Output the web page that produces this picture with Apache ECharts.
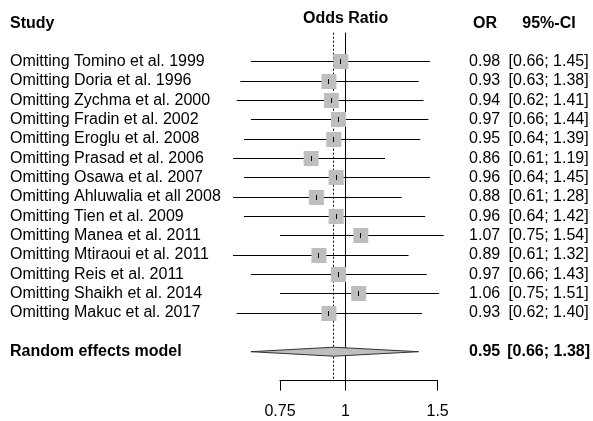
<!DOCTYPE html>
<html>
<head>
<meta charset="utf-8">
<script src="https://cdn.jsdelivr.net/npm/echarts@6/dist/echarts.min.js"></script>
<style>
html,body{margin:0;padding:0;background:#fff;}
#chart{width:593px;height:421px;}
</style>
</head>
<body>
<div id="chart"></div>
<script>
// ---- data ----
const studies = [
  "Omitting Tomino et al. 1999",
  "Omitting Doria et al. 1996",
  "Omitting Zychma et al. 2000",
  "Omitting Fradin et al. 2002",
  "Omitting Eroglu et al. 2008",
  "Omitting Prasad et al. 2006",
  "Omitting Osawa et al. 2007",
  "Omitting Ahluwalia et all 2008",
  "Omitting Tien et al. 2009",
  "Omitting Manea et al. 2011",
  "Omitting Mtiraoui et al. 2011",
  "Omitting Reis et al. 2011",
  "Omitting Shaikh et al. 2014",
  "Omitting Makuc et al. 2017"
];
const orValues = [0.98, 0.93, 0.94, 0.97, 0.95, 0.86, 0.96, 0.88, 0.96, 1.07, 0.89, 0.97, 1.06, 0.93];
const ciLower  = [0.66, 0.63, 0.62, 0.66, 0.64, 0.61, 0.64, 0.61, 0.64, 0.75, 0.61, 0.66, 0.75, 0.62];
const ciUpper  = [1.45, 1.38, 1.41, 1.44, 1.39, 1.19, 1.45, 1.28, 1.42, 1.54, 1.32, 1.43, 1.51, 1.40];
const pooledLabel = "Random effects model";
const pooledOR = 0.95;
const pooledLower = 0.66;
const pooledUpper = 1.38;
const refLineValues = [1, pooledOR];
const refLineDashed = [false, true];
const xTickValues = [0.75, 1, 1.5];
const xTickLabels = ["0.75", "1", "1.5"];
const headers = { study: "Study", plot: "Odds Ratio", or: "OR", ci: "95%-CI" };

// ---- build category rows: blank header row, studies, blank, pooled, blank ----
const FONT = "Liberation Sans";
const rowLabels = [""].concat(studies, ["", pooledLabel, ""]);
const fmt = v => v.toFixed(2);
const orLabels = [""].concat(orValues.map(fmt), ["", fmt(pooledOR), ""]);
const ciLabels = [""].concat(
  orValues.map((v, i) => "[" + fmt(ciLower[i]) + "; " + fmt(ciUpper[i]) + "]"),
  ["", "[" + fmt(pooledLower) + "; " + fmt(pooledUpper) + "]", ""]
);
const pooledRow = studies.length + 2;
const studyData = orValues.map((v, i) => [v, ciLower[i], ciUpper[i], i + 1]);
const pooledData = [[pooledOR, pooledLower, pooledUpper, pooledRow]];
const refData = refLineValues.map((v, i) => [v, 0, refLineDashed[i] ? 1 : 0]);

const crisp = v => Math.floor(v) + 0.5;
const boldRow = (value, idx) => idx === pooledRow ? "{b|" + value + "}" : value;
const richB = { b: { fontWeight: "bold", fontSize: 16, fontFamily: FONT, color: "#000" } };

const chart = echarts.init(document.getElementById("chart"), null, { renderer: "canvas" });
const baseLabel = { color: "#000", fontSize: 16, fontFamily: FONT, interval: 0, rich: richB, formatter: boldRow };

chart.setOption({
  animation: false,
  backgroundColor: "#fff",
  grid: { left: 280, right: 155, top: 32.7, bottom: 40.3, containLabel: false },
  xAxis: {
    type: "log", logBase: 10, min: 0.75, max: 1.5,
    splitLine: { show: false },
    axisLine: { show: true, lineStyle: { color: "#000", width: 1 } },
    axisTick: { show: true, customValues: xTickValues, length: 10, lineStyle: { color: "#000", width: 1 } },
    axisLabel: {
      customValues: xTickValues, margin: 23, color: "#000", fontSize: 16, fontFamily: FONT,
      formatter: (v) => {
        let best = 0;
        xTickValues.forEach((t, i) => { if (Math.abs(t - v) < Math.abs(xTickValues[best] - v)) best = i; });
        return xTickLabels[best];
      }
    }
  },
  yAxis: [
    {
      type: "category", inverse: true, data: rowLabels, position: "left",
      axisLine: { show: false }, axisTick: { show: false }, splitLine: { show: false },
      axisLabel: Object.assign({}, baseLabel, { align: "left", margin: 270 })
    },
    {
      type: "category", inverse: true, data: orLabels, position: "right", offset: 0,
      axisLine: { show: false }, axisTick: { show: false }, splitLine: { show: false },
      axisLabel: Object.assign({}, baseLabel, { align: "center", margin: 47 })
    },
    {
      type: "category", inverse: true, data: ciLabels, position: "right", offset: 0,
      axisLine: { show: false }, axisTick: { show: false }, splitLine: { show: false },
      axisLabel: Object.assign({}, baseLabel, { align: "center", margin: 111 })
    }
  ],
  graphic: [
    { type: "text", x: 10, y: 24, style: { text: headers.study, font: "bold 16px " + FONT, fill: "#000", align: "left", verticalAlign: "middle" } },
    { type: "text", x: 345.6, y: 19, style: { text: headers.plot, font: "bold 16px " + FONT, fill: "#000", align: "center", verticalAlign: "middle" } },
    { type: "text", x: 485, y: 24, style: { text: headers.or, font: "bold 16px " + FONT, fill: "#000", align: "center", verticalAlign: "middle" } },
    { type: "text", x: 549, y: 24, style: { text: headers.ci, font: "bold 16px " + FONT, fill: "#000", align: "center", verticalAlign: "middle" } }
  ],
  series: [
    {
      type: "custom", name: "reference", xAxisIndex: 0, yAxisIndex: 0, clip: false, z: 1,
      encode: { x: 0, y: 1 },
      data: refData,
      renderItem: (params, api) => {
        const p = api.coord([api.value(0), 0]);
        const cs = params.coordSys;
        const dashed = api.value(2) === 1;
        const x = crisp(p[0]);
        return {
          type: "line",
          shape: { x1: x, y1: cs.y, x2: x, y2: cs.y + cs.height },
          style: { stroke: "#000", lineWidth: 1, lineDash: dashed ? [2, 2] : null }
        };
      }
    },
    {
      type: "custom", name: "studies", xAxisIndex: 0, yAxisIndex: 0, clip: false, z: 3,
      encode: { x: 0, y: 3 },
      data: studyData,
      renderItem: (params, api) => {
        const row = api.value(3);
        const pL = api.coord([api.value(1), row]);
        const pH = api.coord([api.value(2), row]);
        const pE = api.coord([api.value(0), row]);
        const s = 15;
        const y = crisp(pE[1]);
        const xe = crisp(pE[0]);
        return {
          type: "group",
          children: [
            { type: "line", shape: { x1: pL[0], y1: y, x2: pH[0], y2: y }, style: { stroke: "#000", lineWidth: 1 } },
            { type: "rect", shape: { x: pE[0] - s / 2, y: y - s / 2, width: s, height: s }, style: { fill: "#BEBEBE" } },
            { type: "line", shape: { x1: xe, y1: y - 2.5, x2: xe, y2: y + 2.5 }, style: { stroke: "#000", lineWidth: 1 } }
          ]
        };
      }
    },
    {
      type: "custom", name: "pooled", xAxisIndex: 0, yAxisIndex: 0, clip: false, z: 3,
      encode: { x: 0, y: 3 },
      data: pooledData,
      renderItem: (params, api) => {
        const row = api.value(3);
        const pL = api.coord([api.value(1), row]);
        const pH = api.coord([api.value(2), row]);
        const pE = api.coord([api.value(0), row]);
        const h = 4.5;
        return {
          type: "polygon",
          shape: { points: [[pL[0], pL[1]], [pE[0], pE[1] - h], [pH[0], pH[1]], [pE[0], pE[1] + h]] },
          style: { fill: "#BEBEBE", stroke: "#333", lineWidth: 1 }
        };
      }
    }
  ]
});
</script>
</body>
</html>
